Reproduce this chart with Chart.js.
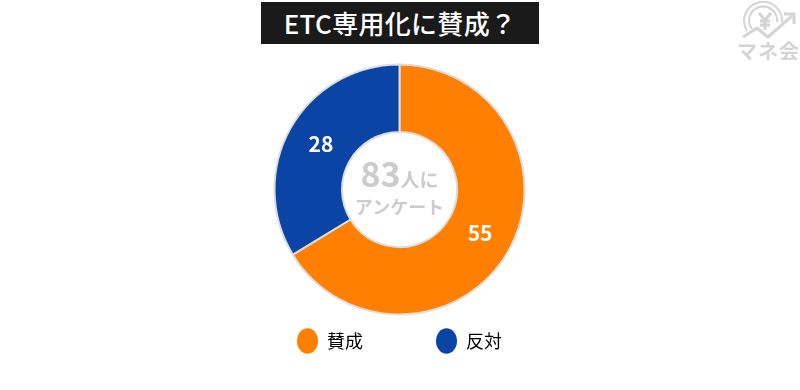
<!DOCTYPE html>
<html lang="ja">
<head>
<meta charset="utf-8">
<title>ETC専用化に賛成？</title>
<script src="https://cdn.jsdelivr.net/npm/chart.js@4"></script>
<style>
html, body { margin: 0; padding: 0; background: #fff; }
body { font-family: "Noto Sans CJK JP", sans-serif; }
#wrap { position: relative; width: 800px; height: 390px; overflow: hidden; }
#answers-chart { position: absolute; left: 0; top: 0; }
#title {
    position: absolute; left: 261px; top: 2px; width: 278px; height: 42px;
    background: #1a1a1a; color: #fff; text-align: center;
    font-size: 26px; font-weight: 500; line-height: 41px; letter-spacing: 0.3px; white-space: nowrap;
}
#center { position: absolute; left: 340px; top: 152px; width: 119px; text-align: center; color: #ccc; font-weight: 700; }
#center .total { font-size: 34px; line-height: 42px; height: 42px; }
#center .unit { font-size: 19px; }
#center .sub { font-size: 18px; line-height: 26px; margin-top: -1px; white-space: nowrap; }
#logo { position: absolute; left: 732px; top: 0; width: 68px; height: 66px; color: #d4d4d4; }
#logo span { position: absolute; left: 5px; top: 39px; font-size: 20px; font-weight: 700; line-height: 24px; letter-spacing: 1px; white-space: nowrap; }
</style>
</head>
<body>
<div id="wrap">
    <canvas id="answers-chart" width="800" height="390"></canvas>
    <div id="title">ETC専用化に賛成？</div>
    <div id="center">
        <div class="total">83<span class="unit">人に</span></div>
        <div class="sub">アンケート</div>
    </div>
    <div id="logo">
        <svg width="68" height="42" viewBox="0 0 68 42" fill="none" stroke="currentColor" stroke-width="2">
            <path d="M15 31 A19 19 0 1 1 50 22"/>
            <path d="M20 29 A14 14 0 1 1 45 22"/>
            <path d="M11 37 L25 28 L36 37 L60 16" stroke-width="3"/>
            <path d="M52 14 H62 V24" stroke-width="3"/>
            <path d="M27 13 L33 20 L39 13 M33 20 V30 M28 21 H38 M28 25 H38" stroke-width="3"/>
        </svg>
        <span>マネ会</span>
    </div>
</div>
<script>
const categories = ['賛成', '反対'];
const answerCounts = [55, 28];
const sliceColors = ['#ff7f00', '#0a44a4'];

// draws the white counts on top of each slice
const sliceLabels = {
    id: 'sliceLabels',
    afterDatasetsDraw(chart) {
        const { ctx } = chart;
        const arcs = chart.getDatasetMeta(0).data;
        ctx.save();
        ctx.fillStyle = '#fff';
        ctx.font = '700 21px "Noto Sans CJK JP"';
        ctx.textAlign = 'center';
        ctx.textBaseline = 'middle';
        arcs.forEach((arc, i) => {
            const pos = arc.tooltipPosition();
            ctx.fillText(String(answerCounts[i]), pos.x + 1, pos.y - 1);
        });
        ctx.restore();
    }
};

// legend padding sets the wide gap between items, so give back the extra height
const legendTrim = {
    id: 'legendTrim',
    beforeInit(chart) {
        const fit = chart.legend.fit;
        chart.legend.fit = function fitTrimmed() {
            fit.bind(this)();
            this.height = 131;
        };
    }
};

new Chart(document.getElementById('answers-chart'), {
    type: 'doughnut',
    data: {
        labels: categories,
        datasets: [{
            data: answerCounts,
            backgroundColor: sliceColors,
            borderColor: '#dddddd',
            borderWidth: 2
        }]
    },
    options: {
        responsive: false,
        animation: false,
        radius: 125,
        cutout: '46%',
        layout: { padding: { top: 120, right: 1 } },
        plugins: {
            tooltip: { enabled: false },
            legend: {
                position: 'bottom',
                onClick: null,
                labels: {
                    usePointStyle: true,
                    pointStyle: 'circle',
                    boxHeight: 21,
                    pointStyleWidth: 21,
                    padding: 73,
                    color: '#333',
                    font: { family: '"Noto Sans CJK JP"', size: 18 },
                    generateLabels(chart) {
                        return categories.map((name, i) => ({
                            text: name,
                            fillStyle: sliceColors[i],
                            strokeStyle: sliceColors[i],
                            lineWidth: 0,
                            pointStyle: 'circle',
                            index: i
                        }));
                    }
                }
            }
        }
    },
    plugins: [sliceLabels, legendTrim]
});
</script>
</body>
</html>
